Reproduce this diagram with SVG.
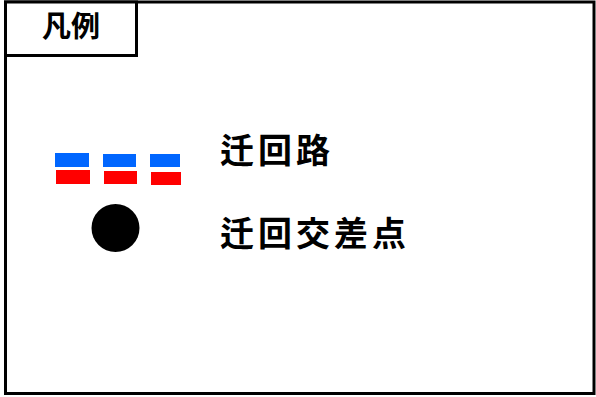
<svg xmlns="http://www.w3.org/2000/svg" width="596" height="397" viewBox="0 0 596 397">
<style>
.frame{fill:#fff;stroke:#000;stroke-width:3}
.t{font-family:"Noto Sans CJK JP","Noto Sans CJK SC",sans-serif;font-weight:bold;fill:#000}
.blue{fill:#0066ff}
.red{fill:#ff0000}
</style>
<rect width="596" height="397" fill="#fff"/>
<g id="frame">
<rect class="frame" x="5.5" y="2" width="588.5" height="391.5"/>
</g>
<g id="title">
<rect class="frame" x="5.5" y="2" width="131" height="53.5"/>
<text class="t" x="71" y="37" font-size="29" text-anchor="middle">凡例</text>
</g>
<g id="legend-route">
<rect class="blue" x="55" y="153" width="34" height="14"/>
<rect class="red" x="56" y="170" width="34" height="14"/>
<rect class="blue" x="103" y="154" width="33" height="13"/>
<rect class="red" x="104" y="171" width="33" height="13"/>
<rect class="blue" x="150" y="154" width="30" height="13"/>
<rect class="red" x="151" y="172" width="30" height="13"/>
<text class="t" x="220" y="163" font-size="34" letter-spacing="4">迁回路</text>
</g>
<g id="legend-crossing">
<circle cx="115.5" cy="228" r="24" fill="#000"/>
<text class="t" x="220" y="246" font-size="34" letter-spacing="4">迁回交差点</text>
</g>
</svg>
